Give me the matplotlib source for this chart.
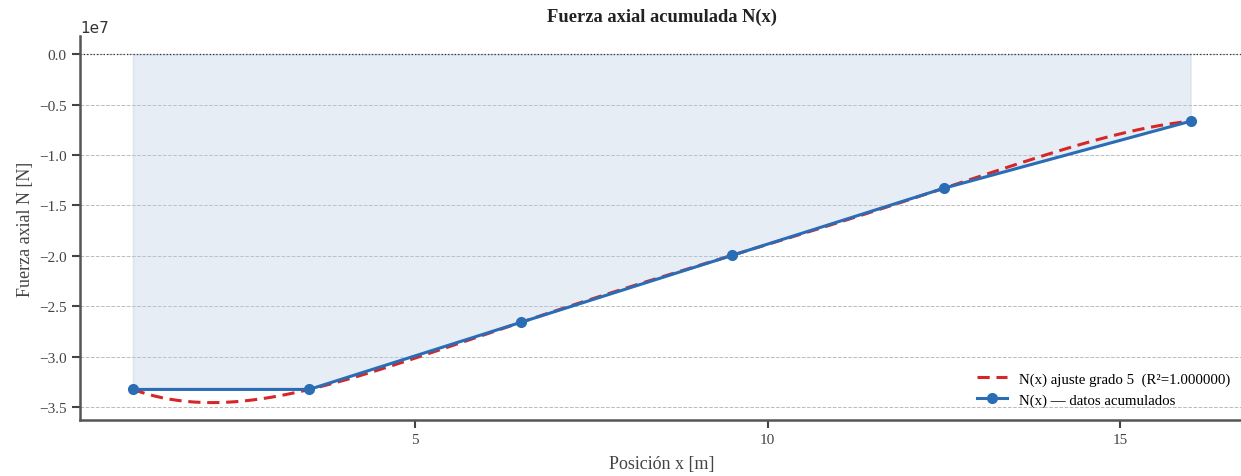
import numpy as np
import matplotlib
matplotlib.use("Agg")
from matplotlib import pyplot as plt

# posiciones de los nodos y fuerza axial acumulada
x_nodes = [1.0, 3.5, 6.5, 9.5, 12.5, 16.0]
N_nodes = [-3.325e7, -3.325e7, -2.66e7, -1.995e7, -1.33e7, -0.665e7]
grado = 5

plt.rcParams['font.family'] = ['Liberation Serif', 'DejaVu Serif']
plt.rcParams['axes.unicode_minus'] = True

x = np.array(x_nodes)
N = np.array(N_nodes)

# ajuste polinomico
coef = np.polyfit(x, N, grado)
p = np.poly1d(coef)
ss_res = np.sum((N - p(x)) ** 2)
ss_tot = np.sum((N - N.mean()) ** 2)
r2 = 1 - ss_res / ss_tot
xs = np.linspace(x.min(), x.max(), 400)

fig = plt.figure(figsize=(12.41, 4.77), dpi=100)
ax = fig.add_axes([0.0645, 0.117, 0.9375, 0.805])

azul = '#2a6db5'
rojo = '#d62728'

ax.fill_between(x, N, 0, color='#b8cce4', alpha=0.35, lw=1.2, edgecolor='#b8cce4')
ax.axhline(0, color='#333333', lw=0.9, ls=':')
ax.plot(xs, p(xs), ls='--', color=rojo, lw=2.2, dashes=(4, 2.2),
        label='N(x) ajuste grado %d  (R²=%.6f)' % (grado, r2))
ax.plot(x, N, '-o', color=azul, lw=2.2, ms=7, label='N(x) — datos acumulados')

ax.set_xlim(0.25, 16.75)
ax.set_ylim(-3.63e7, 0.178e7)
ax.set_yticks(np.arange(-3.5e7, 0.1e7, 0.5e7))
ax.set_xticks([5, 10, 15])
ax.grid(axis='y', ls='--', color='#bbbbbb', lw=0.7)
ax.set_axisbelow(True)

for s in ['top', 'right']:
    ax.spines[s].set_visible(False)
for s in ['left', 'bottom']:
    ax.spines[s].set_color('#555555')
    ax.spines[s].set_linewidth(1.8)
ax.tick_params(colors='#444444', labelsize=11, width=1.5, length=6)
ax.yaxis.get_offset_text().set_family('DejaVu Sans')
ax.yaxis.get_offset_text().set_fontsize(11)
ax.yaxis.get_offset_text().set_color('#333333')

ax.set_title('Fuerza axial acumulada N(x)', fontweight='bold', fontsize=13.3, color='#222222', pad=11)
ax.set_xlabel('Posición x [m]', fontsize=13, color='#444444', labelpad=6)
ax.set_ylabel('Fuerza axial N [N]', fontsize=13, color='#444444')
ax.legend(loc='lower right', frameon=False, fontsize=10.7, bbox_to_anchor=(1.0, 0.0))

fig.savefig('out.png', dpi=100)
